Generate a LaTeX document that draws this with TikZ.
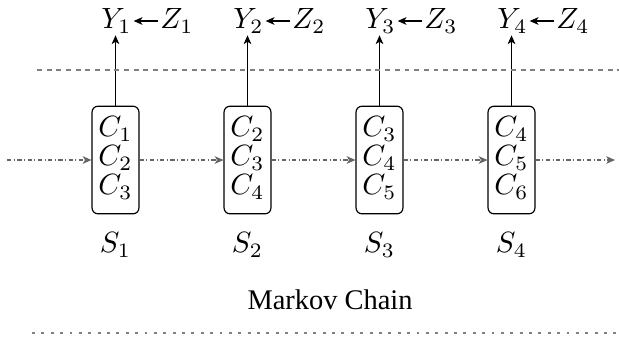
\documentclass[tikz,border=0pt]{standalone}
\usepackage{amsmath}
\usepackage{fontspec}
\newfontfamily\chainfont{Liberation Serif}
\usetikzlibrary{arrows.meta}
\renewcommand{\arraystretch}{0.82}
\newcommand{\Cs}[3]{$\begin{array}{@{}c@{}}C_{#1}\\C_{#2}\\C_{#3}\end{array}$}
\tikzset{
  state/.style={draw,rounded corners=2pt,minimum width=16pt,minimum height=36.7pt,inner sep=0pt},
  lab/.style={inner sep=0.5pt},
  chain/.style={gray!80!black,dash pattern=on 1.5pt off 0.8pt on 0.4pt off 0.8pt,-{Stealth[length=3pt,width=2.6pt,inset=0.8pt]}},
  obs/.style={-{Stealth[length=3pt,width=2.6pt,inset=0.8pt]}},
  upper/.style={gray,dash pattern=on 1.7pt off 1.6pt},
  lower/.style={gray,dash pattern=on 1pt off 2.2pt}
}

\begin{document}
\begin{tikzpicture}[x=0.012cm,y=-0.012cm]
\useasboundingbox (0,0) rectangle (619,339);
% hidden states
\node[state] (s1) at (115.5,160) {\Cs{1}{2}{3}};
\node[state] (s2) at (247.5,160) {\Cs{2}{3}{4}};
\node[state] (s3) at (379.5,160) {\Cs{3}{4}{5}};
\node[state] (s4) at (511.5,160) {\Cs{4}{5}{6}};
\node (l1) at (115.5,245) {$S_1$};
\node (l2) at (247.5,245) {$S_2$};
\node (l3) at (379.5,245) {$S_3$};
\node (l4) at (511.5,245) {$S_4$};
% observations
\node[lab] (y1) at (116.5,21) {$Y_1$};
\node[lab] (y2) at (248.5,21) {$Y_2$};
\node[lab] (y3) at (380.5,21) {$Y_3$};
\node[lab] (y4) at (512.5,21) {$Y_4$};
\node[lab] (z1) at (177,21) {$Z_1$};
\node[lab] (z2) at (309,21) {$Z_2$};
\node[lab] (z3) at (441,21) {$Z_3$};
\node[lab] (z4) at (573,21) {$Z_4$};
\draw[obs] (s1.north) -- (s1.north |- y1.south);
\draw[obs] (s2.north) -- (s2.north |- y2.south);
\draw[obs] (s3.north) -- (s3.north |- y3.south);
\draw[obs] (s4.north) -- (s4.north |- y4.south);
\draw[obs] (z1) -- (y1);
\draw[obs] (z2) -- (y2);
\draw[obs] (z3) -- (y3);
\draw[obs] (z4) -- (y4);
% chain
\coordinate (in) at (7,160);
\coordinate (out) at (615,160);
\draw[chain] (in) -- (s1);
\draw[chain] (s1) -- (s2);
\draw[chain] (s2) -- (s3);
\draw[chain] (s3) -- (s4);
\draw[chain] (s4) -- (out);
\draw[upper] (37,70) -- (619,70);
\draw[lower] (32,333) -- (619,333);
\node (mc) at (330,300) {\chainfont\fontsize{9.7}{11}\selectfont Markov Chain};
\end{tikzpicture}
\end{document}
